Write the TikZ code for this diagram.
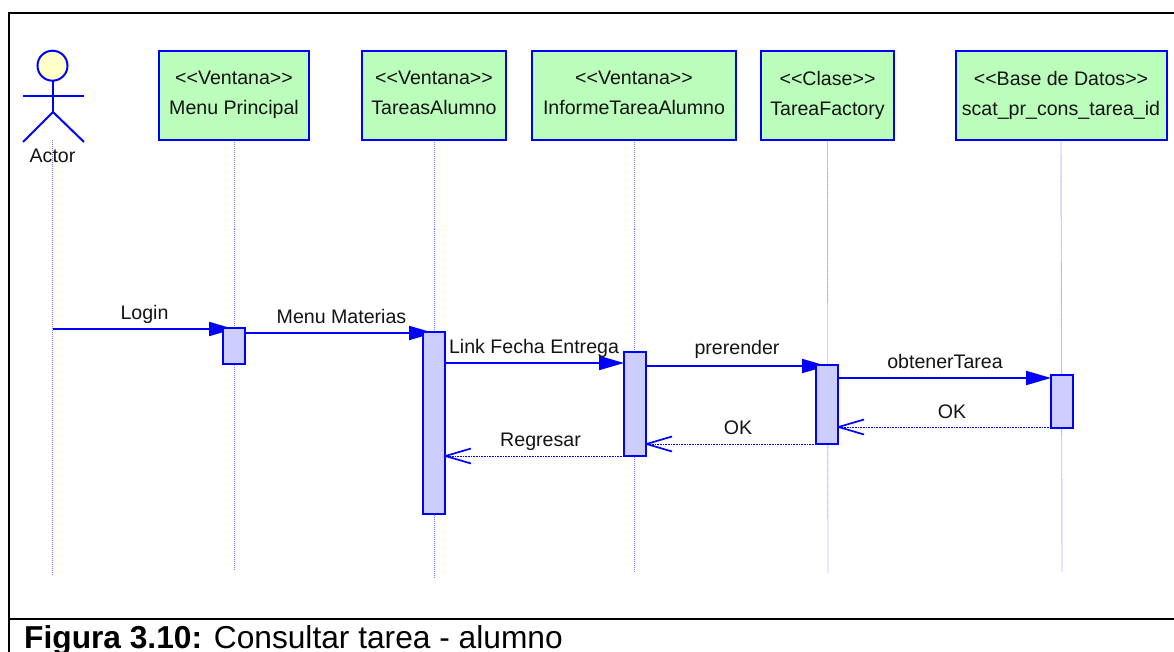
\documentclass[tikz,border=0pt]{standalone}
\usepackage{fontspec}
\setmainfont{Liberation Sans}
\usetikzlibrary{arrows.meta}
\pgfdeclarelayer{base}
\pgfdeclarelayer{back}
\pgfsetlayers{base,back,main}
\pgfdeclarearrow{
  name=OpenVee,
  setup code={\pgfarrowssettipend{0pt}\pgfarrowssetlineend{-1pt}\pgfarrowssetbackend{-26pt}\pgfarrowssetvisualbackend{-26pt}},
  drawing code={\pgfsetdash{}{0pt}\pgfsetlinewidth{1.7pt}\pgfsetbuttcap\pgfsetroundjoin
    \pgfpathmoveto{\pgfpoint{-26pt}{7.5pt}}\pgfpathlineto{\pgfpoint{-0.5pt}{0pt}}\pgfpathlineto{\pgfpoint{-26pt}{-7.5pt}}\pgfusepathqstroke}
}
\definecolor{uml}{RGB}{0,0,255}
\definecolor{boxgreen}{RGB}{187,253,187}
\definecolor{actfill}{RGB}{204,204,255}
\definecolor{headfill}{RGB}{255,255,200}
\definecolor{lifec}{RGB}{120,120,255}
\definecolor{inkc}{RGB}{20,20,20}
\newcommand{\lAng}{<\kern0pt<}
\newcommand{\rAng}{>\kern0pt>}
\newcommand{\dpfix}{\rule[-6pt]{0pt}{6pt}}
\tikzset{
  head/.style={draw=uml,line width=2pt,fill=boxgreen,minimum height=89pt,inner sep=0pt,outer sep=0pt,text=inkc,font=\fontsize{19.6}{30}\selectfont,align=center},
  lifeln/.style={draw=lifec,line width=0.9pt,dash pattern=on 1pt off 1pt},
  activ/.style={draw=uml,line width=2pt,fill=actfill,inner sep=0pt,outer sep=0pt,minimum width=22pt},
  msg/.style={draw=uml,line width=2pt,-{Triangle[length=25pt,width=14pt]}},
  ret/.style={draw=uml,line width=1pt,dash pattern=on 1pt off 0.6pt,-OpenVee},
  lbl/.style={text=inkc,font=\fontsize{19.6}{22}\selectfont,inner sep=0pt,anchor=base},
  frameln/.style={draw=black,line width=2pt},
  actorln/.style={draw=uml,line width=2pt}
}
\begin{document}
\begin{tikzpicture}[x=1pt,y=-1pt]
\useasboundingbox (0,0) rectangle (1174,652);
\begin{pgfonlayer}{base}
\fill[white] (0,0) rectangle (1174,652);
\end{pgfonlayer}
% frame
\draw[frameln] (8.5,652) -- (8.5,13.5) -- (1174,13.5);
\draw[frameln] (8.5,619) -- (1174,619);
% heads
\node[head,minimum width=150pt] (h1) at (234,96) {\lAng Ventana\rAng\\Menu Principal\dpfix};
\node[head,minimum width=144pt] (h2) at (434,96) {\lAng Ventana\rAng\\TareasAlumno\dpfix};
\node[head,minimum width=204pt] (h3) at (634,96) {\lAng Ventana\rAng\\InformeTareaAlumno\dpfix};
\node[head,minimum width=133pt] (h4) at (827.5,96) {\lAng Clase\rAng\\TareaFactory\dpfix};
\node[head,minimum width=211pt] (h5) at (1061,96) {\lAng Base de Datos\rAng\\scat\_pr\_cons\_tarea\_id\dpfix};
% lifeline ends
\coordinate (a0) at (52.5,140);
\coordinate (e0) at (52.5,575);
\coordinate (e1) at (234,570);
\coordinate (e2) at (434,577);
\coordinate (e3) at (634,571);
\coordinate (e4) at (828,573);
\coordinate (e5) at (1062,572);
\begin{pgfonlayer}{back}
\draw[lifeln] (a0) -- (e0);
\draw[lifeln] (h1.south) -- (e1);
\draw[lifeln] (h2.south) -- (e2);
\draw[lifeln] (h3.south) -- (e3);
\draw[lifeln] (h4.south) -- (e4);
\draw[lifeln] (h5.south) -- (e5);
\end{pgfonlayer}
% actor
\draw[actorln,fill=headfill] (52.5,65.7) circle (15);
\draw[actorln] (52.5,80.7) -- (52.5,112);
\draw[actorln] (23,96.5) -- (84,96.5);
\draw[actorln] (23,142) -- (53,112) -- (84,142);
\node[lbl] (actor) at (52.5,163) {Actor};
% activations
\node[activ,minimum height=36pt] (a1) at (234,346) {};
\node[activ,minimum height=182pt] (a2) at (434,423) {};
\node[activ,minimum height=104pt] (a3) at (635,404) {};
\node[activ,minimum height=79pt] (a4) at (827,404.5) {};
\node[activ,minimum height=53pt] (a5) at (1062,401.5) {};
\coordinate (s0) at (52.5,329);
% messages
\begin{pgfonlayer}{back}
\draw[msg] (s0) -- ([yshift=-1pt]a1.north);
\draw[msg] ([yshift=-5pt]a1.north east) -- ([yshift=-1pt]a2.north);
\draw[msg] ([yshift=-31pt]a2.north east) -- ([yshift=-11pt]a3.north west);
\draw[msg] ([yshift=-14pt]a3.north east) -- ([yshift=-1pt]a4.north);
\draw[msg] ([yshift=-13pt]a4.north east) -- ([yshift=-3pt]a5.north west);
\draw[ret] ([yshift=1pt]a5.south west) -- ([yshift=17pt]a4.south east);
\draw[ret] (a4.south west) -- ([yshift=12pt]a3.south east);
\draw[ret] (a3.south west) -- ([yshift=58pt]a2.south east);
\end{pgfonlayer}
% labels
\node[lbl] (t1) at (144.5,319) {Login};
\node[lbl] (t2) at (341.5,323) {Menu Materias};
\node[lbl] (t3) at (534,353) {Link Fecha Entrega};
\node[lbl] (t4) at (737,354) {prerender};
\node[lbl] (t5) at (945,368) {obtenerTarea};
\node[lbl] (t6) at (952,418) {OK};
\node[lbl] (t7) at (738,434) {OK};
\node[lbl] (t8) at (540.5,446) {Regresar};
% caption
\node[anchor=base west,inner sep=0pt,text=black,font=\fontsize{31.7}{34}\selectfont] (cap) at (24,648) {\textbf{Figura 3.10:} Consultar tarea - alumno};
\end{tikzpicture}
\end{document}
